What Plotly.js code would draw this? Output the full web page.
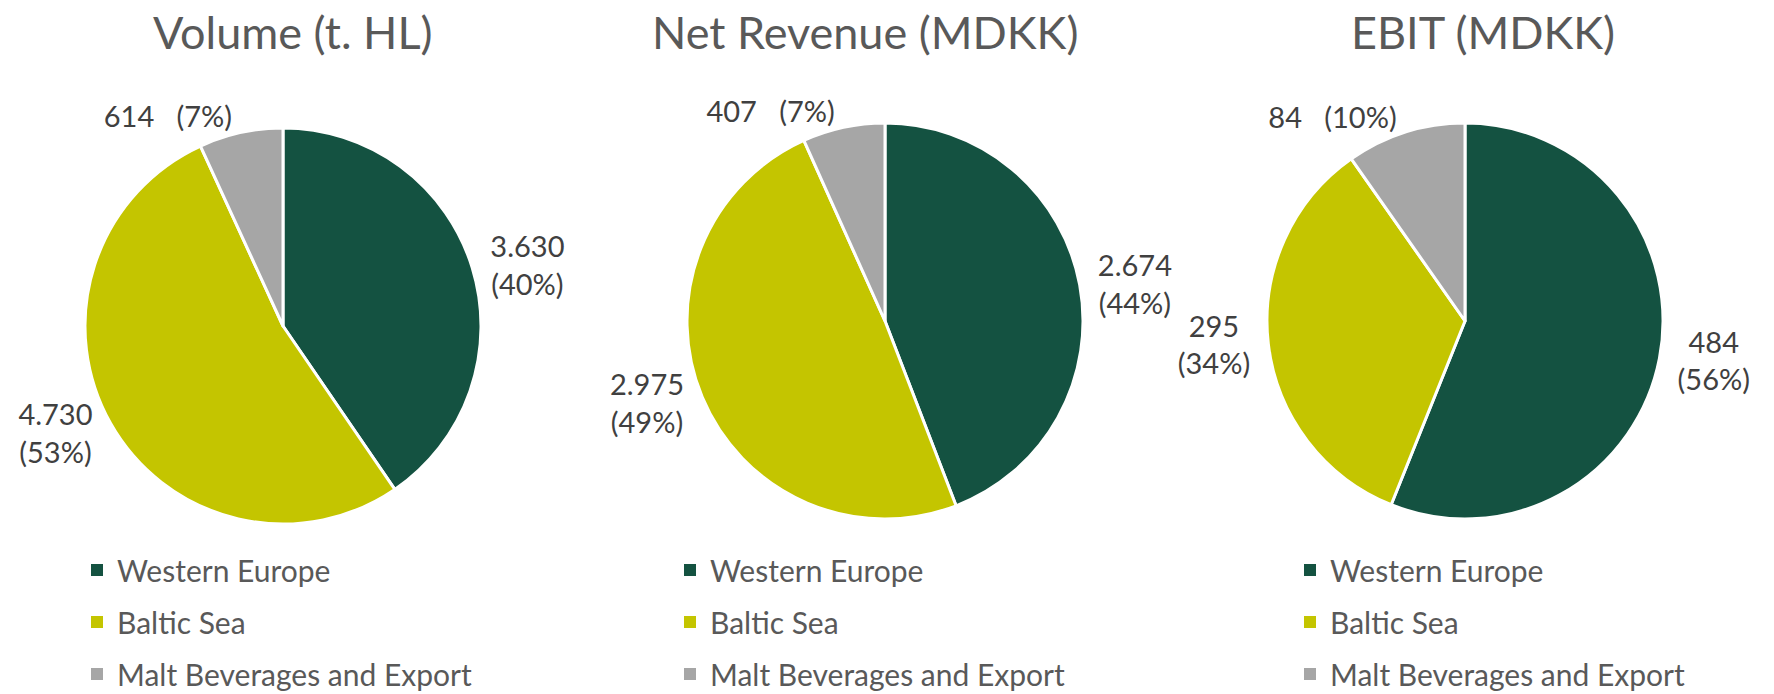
<!DOCTYPE html>
<html>
<head>
<meta charset="utf-8">
<script src="https://cdn.plot.ly/plotly-3.0.1.min.js"></script>
<style>html,body{margin:0;padding:0;background:#fff;}#chart{width:1774px;height:694px;}</style>
</head>
<body>
<div id="chart"></div>
<script>
// ---- data ----
var categories = ['Western Europe', 'Baltic Sea', 'Malt Beverages and Export'];
var chartTitles = ['Volume (t. HL)', 'Net Revenue (MDKK)', 'EBIT (MDKK)'];
var volumeValues = [3630, 4730, 614];
var revenueValues = [2674, 2975, 407];
var ebitValues = [484, 295, 84];

// ---- style ----
var colors = ['#145241', '#C4C500', '#A6A6A6'];
var W = 1774, H = 694;
var labelFont = {family: 'Lato, "Open Sans", sans-serif', size: 29, color: '#404040'};
var legendFont = {family: 'Lato, "Open Sans", sans-serif', size: 30, color: '#595959'};
var titleFont = {family: 'Lato, "Open Sans", sans-serif', size: 45, color: '#595959'};

var tmpl = ['%{value:,.0f}<br>(%{percent:.0%})', '%{value:,.0f}<br>(%{percent:.0%})', '%{value:,.0f}\u00a0\u00a0\u00a0(%{percent:.0%})'];

var pies = [
  {vals: volumeValues, cx: 283, cy: 326, r: 198, legend: 'legend',  lx: 77,   tx: 293},
  {vals: revenueValues, cx: 885, cy: 321, r: 198, legend: 'legend2', lx: 670,  tx: 865},
  {vals: ebitValues,   cx: 1465, cy: 321, r: 198, legend: 'legend3', lx: 1290, tx: 1483}
];

var data = [];
var annotations = [];
var layout = {
  width: W, height: H,
  margin: {l: 0, r: 0, t: 0, b: 0, autoexpand: false},
  paper_bgcolor: '#ffffff', plot_bgcolor: '#ffffff',
  separators: ',.',
  hovermode: false,
  xaxis: {visible: false}, yaxis: {visible: false},
  annotations: annotations
};

pies.forEach(function (p, i) {
  data.push({
    type: 'pie',
    labels: categories,
    values: p.vals,
    sort: false,
    direction: 'clockwise',
    rotation: 0,
    marker: {colors: colors, line: {color: '#ffffff', width: 3}},
    textposition: 'outside',
    texttemplate: tmpl,
    outsidetextfont: labelFont,
    showlegend: false,
    domain: {
      x: [(p.cx - p.r) / W, (p.cx + p.r) / W],
      y: [1 - (p.cy + p.r) / H, 1 - (p.cy - p.r) / H]
    }
  });
  categories.forEach(function (c, k) {
    data.push({
      type: 'scatter', mode: 'markers',
      x: [null], y: [null],
      name: c,
      legend: p.legend,
      legendgroup: p.legend + '_' + k,
      marker: {symbol: 'square', size: 12, color: colors[k]},
      showlegend: true
    });
  });
  layout[p.legend] = {
    x: p.lx / W, xanchor: 'left',
    y: 1 - 544 / H, yanchor: 'top',
    font: legendFont,
    bgcolor: 'rgba(0,0,0,0)',
    tracegroupgap: 10,
    traceorder: 'grouped',
    itemclick: false, itemdoubleclick: false
  };
  annotations.push({
    text: chartTitles[i],
    xref: 'paper', yref: 'paper',
    x: p.tx / W, y: 1 - 32 / H,
    xanchor: 'center', yanchor: 'middle',
    showarrow: false,
    font: titleFont
  });
});

Plotly.newPlot('chart', data, layout, {displayModeBar: false, staticPlot: true});
</script>
</body>
</html>
